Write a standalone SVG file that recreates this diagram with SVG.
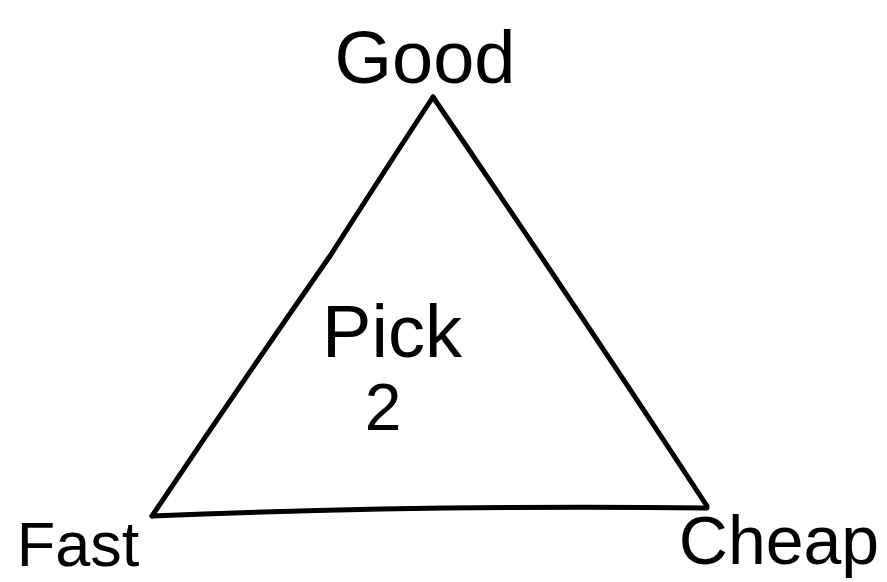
<svg xmlns="http://www.w3.org/2000/svg" width="887" height="582" viewBox="0 0 887 582">
  <style>
    .edge { fill: none; stroke: #000; stroke-width: 5; stroke-linecap: round; stroke-linejoin: round; }
    .lbl { font-family: "Liberation Sans", "DejaVu Sans", sans-serif; fill: #000; }
  </style>
  <rect width="887" height="582" fill="#fff"/>
  <g id="connectors">
    <path id="edge-good-fast" class="edge" d="M433,97 Q 385,170 330,256 Q 240,385 152,516"/>
    <path id="edge-good-cheap" class="edge" d="M433,97 Q 575,305 707,506"/>
    <path id="edge-fast-cheap" class="edge" d="M152,516 Q 420,505 707,508"/>
  </g>
  <g id="node-good">
    <text class="lbl" x="425" y="83" font-size="74" text-anchor="middle">Good</text>
  </g>
  <g id="node-fast">
    <text class="lbl" x="78" y="566" font-size="63" text-anchor="middle">Fast</text>
  </g>
  <g id="node-cheap">
    <text class="lbl" x="779" y="564" font-size="68" text-anchor="middle">Cheap</text>
  </g>
  <g id="center-label">
    <text class="lbl" x="392" y="357" font-size="74" text-anchor="middle">Pick</text>
    <text class="lbl" x="383" y="430" font-size="66" text-anchor="middle">2</text>
  </g>
</svg>
